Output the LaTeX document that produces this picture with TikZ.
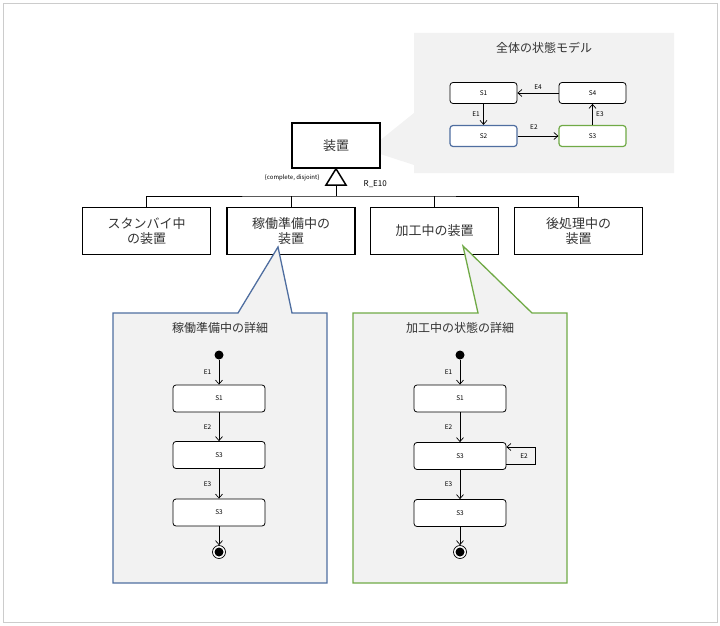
\documentclass[tikz,border=0pt]{standalone}
\usepackage{fontspec}
\setmainfont{Noto Sans CJK JP}
\usetikzlibrary{arrows.meta}
\definecolor{bg}{RGB}{242,242,242}
\definecolor{bl}{RGB}{79,110,160}
\definecolor{gr}{RGB}{112,170,70}
\begin{document}
\begin{tikzpicture}[x=1pt,y=-1pt,line width=0.7pt,
  cls/.style={draw,line width=1.5pt,fill=white,minimum width=128pt,minimum height=47pt,align=center,font=\fontsize{13}{15}\selectfont\color{black!80}},
  st/.style={draw,line width=0.8pt,rounded corners=3pt,fill=white,minimum width=92pt,minimum height=27pt,font=\fontsize{6.5}{7}\selectfont},
  sst/.style={draw,line width=0.8pt,rounded corners=3pt,fill=white,minimum width=67pt,minimum height=21pt,font=\fontsize{6.5}{7}\selectfont},
  tr/.style={-{Straight Barb[length=4pt,width=7pt]}},
  lbl/.style={font=\fontsize{6.5}{7}\selectfont},
  ttl/.style={font=\fontsize{12}{14}\selectfont\color{black!80}}]
\useasboundingbox (0,0) rectangle (720,626);
\draw[gray!40] (3,3) rectangle (717,622);
% top callout
\fill[bg] (414,33) rectangle (674,173) (414,113) -- (368,150) -- (414,165) -- cycle;
\node[ttl] (tt) at (544,48) {全体の状態モデル};
\node[sst] (a1) at (483.5,93) {S1};
\node[sst] (a4) at (592.5,93) {S4};
\node[sst,draw=bl,line width=1.2pt] (a2) at (483.5,136) {S2};
\node[sst,draw=gr,line width=1.2pt] (a3) at (592.5,136) {S3};
\draw[tr] (a4) -- node[lbl,above]{E4} (a1);
\draw[tr] (a1) -- node[lbl,left]{E1} (a2);
\draw[tr] (a2) -- node[lbl,above,pos=0.4,yshift=3pt]{E2} (a3);
\draw[tr] (a3) -- node[lbl,right]{E3} (a4);
% main
\node[cls,minimum width=88pt,minimum height=45pt] (dev) at (336,145.5) {装置};
\node[cls] (c1) at (146.5,231) {スタンバイ中\\の装置};
\node[cls] (c2) at (291,231) {稼働準備中の\\装置};
\node[cls] (c3) at (434.5,231) {加工中の装置};
\node[cls] (c4) at (578.5,231) {後処理中の\\装置};
\coordinate (tb) at (336,185);
\draw[line width=1.5pt,fill=white] (dev.south) -- (346,185) -- (326,185) -- cycle;
\node[font=\fontsize{6}{7}\selectfont,anchor=east] (cd) at (323,178) {\{complete, disjoint\}};
\node[font=\footnotesize,anchor=west] (re) at (360,184) {R\_E10};
\draw[line width=1pt] (tb) -- (336,196);
\draw[line width=1pt] (c1.north) |- (336,196) -| (c4.north);
\draw[line width=1pt] (c2.north) -- (291,196) (c3.north) -- (434.5,196);
% blue callout
\draw[bl,line width=1.3pt,fill=bg] (113,313) -- (238,313) -- (278,247) -- (292,313) -- (327,313) -- (327,583) -- (113,583) -- cycle;
\node[ttl] (t1) at (220,328) {稼働準備中の詳細};
\node[circle,fill,inner sep=0,minimum size=9pt] (i1) at (219,355) {};
\node[st] (p1) at (219,398.5) {S1};
\node[st] (p2) at (219,455) {S3};
\node[st] (p3) at (219,512.5) {S3};
\node[circle,draw,fill=white,inner sep=0,minimum size=13pt] (f1) at (219,552) {};
\fill (f1) circle (4.5pt);
\draw[tr] (i1) -- node[lbl,left,xshift=-4pt]{E1} (p1);
\draw[tr] (p1) -- node[lbl,left,xshift=-4pt]{E2} (p2);
\draw[tr] (p2) -- node[lbl,left,xshift=-4pt]{E3} (p3);
\draw[tr] (p3) -- (f1);
% green callout
\draw[gr,line width=1.3pt,fill=bg] (353,313) -- (478,313) -- (463,246) -- (532,313) -- (567,313) -- (567,583) -- (353,583) -- cycle;
\node[ttl] (t2) at (460,328) {加工中の状態の詳細};
\node[circle,fill,inner sep=0,minimum size=9pt] (i2) at (460,355) {};
\node[st] (q1) at (460,398.5) {S1};
\node[st] (q2) at (460,456) {S3};
\node[st] (q3) at (460,513) {S3};
\node[circle,draw,fill=white,inner sep=0,minimum size=13pt] (f2) at (460,552) {};
\fill (f2) circle (4.5pt);
\draw[tr] (i2) -- node[lbl,left,xshift=-4pt]{E1} (q1);
\draw[tr] (q1) -- node[lbl,left,xshift=-4pt]{E2} (q2);
\draw[tr] (q2) -- node[lbl,left,xshift=-4pt]{E3} (q3);
\draw[tr] (q3) -- (f2);
\draw[tr] ([yshift=-8pt]q2.east) -- ++(29,0) |- ([yshift=9pt]q2.east);
\node[lbl] (e2l) at (524,456) {E2};
\end{tikzpicture}
\end{document}
